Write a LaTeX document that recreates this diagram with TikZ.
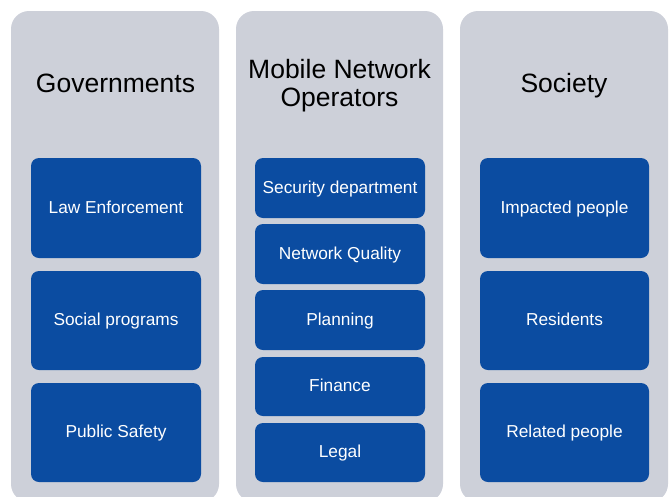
\documentclass[tikz,border=0pt]{standalone}
\usepackage{fontspec}
\setmainfont{Liberation Sans}
\definecolor{colgray}{HTML}{CDD0D9}
\definecolor{boxblue}{HTML}{0B4CA1}
\begin{document}
\begin{tikzpicture}[x=1pt,y=-1pt,
  column/.style={fill=colgray,draw=none,rounded corners=18pt},
  tbox/.style={fill=boxblue,draw=none,rounded corners=8pt,text=white,
    font=\fontsize{17.3}{20}\selectfont,text height=12.4pt,text depth=1.5pt,inner sep=0pt},
  title/.style={font=\fontsize{26.5}{29.5}\selectfont,text=black,anchor=base,inner sep=0pt}]
\useasboundingbox (0,0) rectangle (670,496);
\begin{scope}
\clip (0,0) rectangle (670,496);
\fill[column] (11,11) rectangle (219,502);
\fill[column] (236,11) rectangle (443,502);
\fill[column] (460,11) rectangle (668,502);
\end{scope}
\node[title] (gov) at (115.5,92.3) {Governments};
\node[title] (mno) at (339.5,78.3) {Mobile Network};
\node[title] (mnob) at (339.5,106.7) {Operators};
\node[title] (soc) at (564,92.3) {Society};
% left
\node[tbox,minimum width=170pt,minimum height=100pt] (le) at (116,208) {Law Enforcement};
\node[tbox,minimum width=170pt,minimum height=99pt] (sp) at (116,320.5) {Social programs};
\node[tbox,minimum width=170pt,minimum height=99pt] (ps) at (116,432.5) {Public Safety};
% middle
\node[tbox,minimum width=170pt,minimum height=60pt] (sd) at (340,188) {Security department};
\node[tbox,minimum width=170pt,minimum height=60pt] (nq) at (340,254) {Network Quality};
\node[tbox,minimum width=170pt,minimum height=60pt] (pl) at (340,320) {Planning};
\node[tbox,minimum width=170pt,minimum height=59pt] (fi) at (340,386.5) {Finance};
\node[tbox,minimum width=170pt,minimum height=59pt] (lg) at (340,452.5) {Legal};
% right
\node[tbox,minimum width=169pt,minimum height=100pt] (ip) at (564.5,208) {Impacted people};
\node[tbox,minimum width=169pt,minimum height=99pt] (rs) at (564.5,320.5) {Residents};
\node[tbox,minimum width=169pt,minimum height=99pt] (rp) at (564.5,432.5) {Related people};
\end{tikzpicture}
\end{document}
